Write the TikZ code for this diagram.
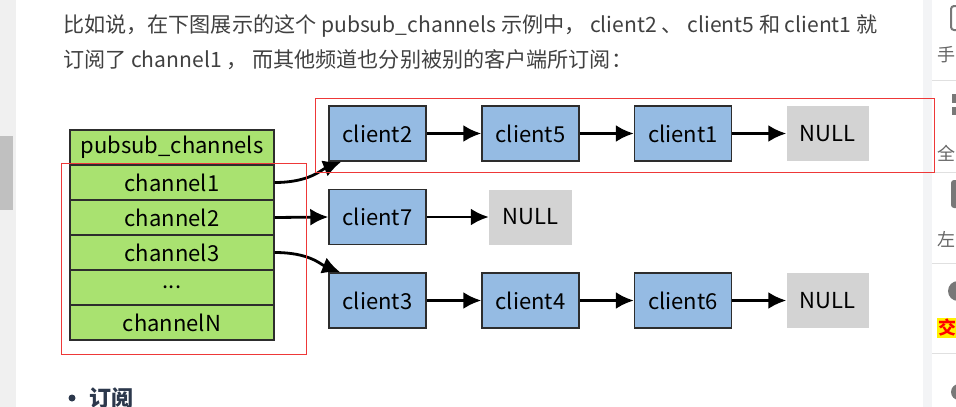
\documentclass[tikz,border=0pt]{standalone}
\usepackage{fontspec}
\setmainfont{Noto Sans CJK SC}
\usetikzlibrary{arrows.meta, positioning}
\definecolor{tabgruen}{RGB}{169,226,112}
\definecolor{kblau}{RGB}{149,187,227}
\definecolor{nullgrau}{RGB}{211,211,211}
\definecolor{rand}{RGB}{45,45,45}
\definecolor{markrot}{RGB}{238,56,56}
\definecolor{textgrau}{RGB}{64,64,64}
\definecolor{seitegrau}{RGB}{240,240,240}
\definecolor{leiste}{RGB}{243,244,246}
\definecolor{balken}{RGB}{192,192,192}
\definecolor{ikon}{RGB}{120,120,120}
\definecolor{kopfblau}{RGB}{44,56,76}
\tikzset{
  Zeile/.style={draw=rand, fill=tabgruen, line width=1.2pt, minimum width=204pt, minimum height=35pt, inner sep=0pt, font=\fontsize{22}{24}\selectfont}, % Tabellenzeile
  Client/.style={draw=rand, fill=kblau, line width=1.4pt, minimum width=97pt, minimum height=55pt, inner sep=0pt, font=\fontsize{22}{24}\selectfont}, % Client-Knoten
  Leer/.style={fill=nullgrau, minimum width=82pt, minimum height=55pt, inner sep=0pt, font=\fontsize{22}{24}\selectfont}, % NULL
  Verweis/.style={line width=2.8pt, -{Latex[length=18pt,width=17pt]}}, % Pfeile
  Absatz/.style={text=textgrau, inner sep=0pt, font=\fontsize{21.1}{24}\selectfont},
  Rahmen/.style={draw=markrot, line width=1pt}
}
\begin{document}
\begin{tikzpicture}[x=1pt, y=-1pt]
\useasboundingbox (0,0) rectangle (956,407);

% % Seitenraender
\fill[seitegrau] (0,0) rectangle (16,407);
\fill[balken] (0,136) rectangle (13,210);
\fill[leiste] (923,0) rectangle (932,407);
\foreach \y in {80,172,263,353} \draw[black!12, line width=1pt] (932,\y) -- (956,\y);

% % Text
\node[Absatz, anchor=base west] (satz1) at (63,32) {比如说，在下图展示的这个 pubsub\_channels 示例中， client2 、 client5 和 client1 就};
\node[Absatz, anchor=base west] (satz2) at (63,67) {订阅了 channel1 ， 而其他频道也分别被别的客户端所订阅：};

% % Tabelle
\node[Zeile] (kopf) at (172,147.5) {pubsub\_channels};
\node[Zeile] (ch1) at (172,182.5) {channel1};
\node[Zeile] (ch2) at (172,217.5) {channel2};
\node[Zeile] (ch3) at (172,252.5) {channel3};
\node[Zeile] (chx) at (172,287.5) {...};
\node[Zeile] (chN) at (172,322.5) {channelN};

% % Clients
\node[Client] (c2) at (377.5,133.5) {client2};
\node[Client] (c5) at (530.5,133.5) {client5};
\node[Client] (c1) at (683,133.5) {client1};
\node[Leer] (n1) at (827.5,133.5) {NULL};

\node[Client] (c7) at (377.5,217) {client7};
\node[Leer, minimum width=83pt] (n2) at (530.5,217) {NULL};

\node[Client] (c3) at (377.5,300.5) {client3};
\node[Client] (c4) at (530.5,300.5) {client4};
\node[Client] (c6) at (683,300.5) {client6};
\node[Leer] (n3) at (827.5,300.5) {NULL};

% Pfeile
\draw[Verweis] (c2.east) -- (c5.west);
\draw[Verweis] (c5.east) -- (c1.west);
\draw[Verweis] (c1.east) -- (n1.west);
\draw[Verweis] (c7.east) -- (n2.west);
\draw[Verweis] (c3.east) -- (c4.west);
\draw[Verweis] (c4.east) -- (c6.west);
\draw[Verweis] (c6.east) -- (n3.west);

\draw[Verweis] (ch1.east) .. controls +(35,0) and +(-20,8) .. ([xshift=13pt]c2.south west);
\draw[Verweis] (ch2.east) -- (c7.west);
\draw[Verweis] (ch3.east) .. controls +(35,0) and +(-20,-8) .. ([xshift=12pt]c3.north west);

% % Markierungen
\draw[Rahmen] (61,163) rectangle (306,354);
\draw[Rahmen] (315,98) rectangle (934,172);

% % Liste
\fill[kopfblau] (72,398) circle (3.5);
\node[anchor=base west, inner sep=0pt, text=kopfblau, font=\fontsize{22}{24}\selectfont\bfseries] (punkt) at (89,406) {订阅};

% % Seitenleiste
\draw[ikon, line width=2pt, rounded corners=3pt] (951,6) rectangle (964,30);
\fill[ikon] (952,94) rectangle (957,103);
\fill[ikon] (952,107) rectangle (957,115);
\fill[ikon, rounded corners=3pt] (951,180) rectangle (964,208);
\fill[ikon] (958,291) circle (10);
\fill[ikon] (959,392) circle (8);
\node[anchor=west, inner sep=0pt, text=black!60, font=\fontsize{18}{18}\selectfont] (s1) at (937,55) {手};
\node[anchor=west, inner sep=0pt, text=black!60, font=\fontsize{18}{18}\selectfont] (s2) at (937,153) {全};
\node[anchor=west, inner sep=0pt, text=black!60, font=\fontsize{18}{18}\selectfont] (s3) at (937,239) {左};
\node[anchor=west, fill=yellow, text=red, inner sep=1.5pt, font=\fontsize{18}{18}\selectfont\bfseries] (s4) at (937,328) {交};

\end{tikzpicture}
\end{document}
